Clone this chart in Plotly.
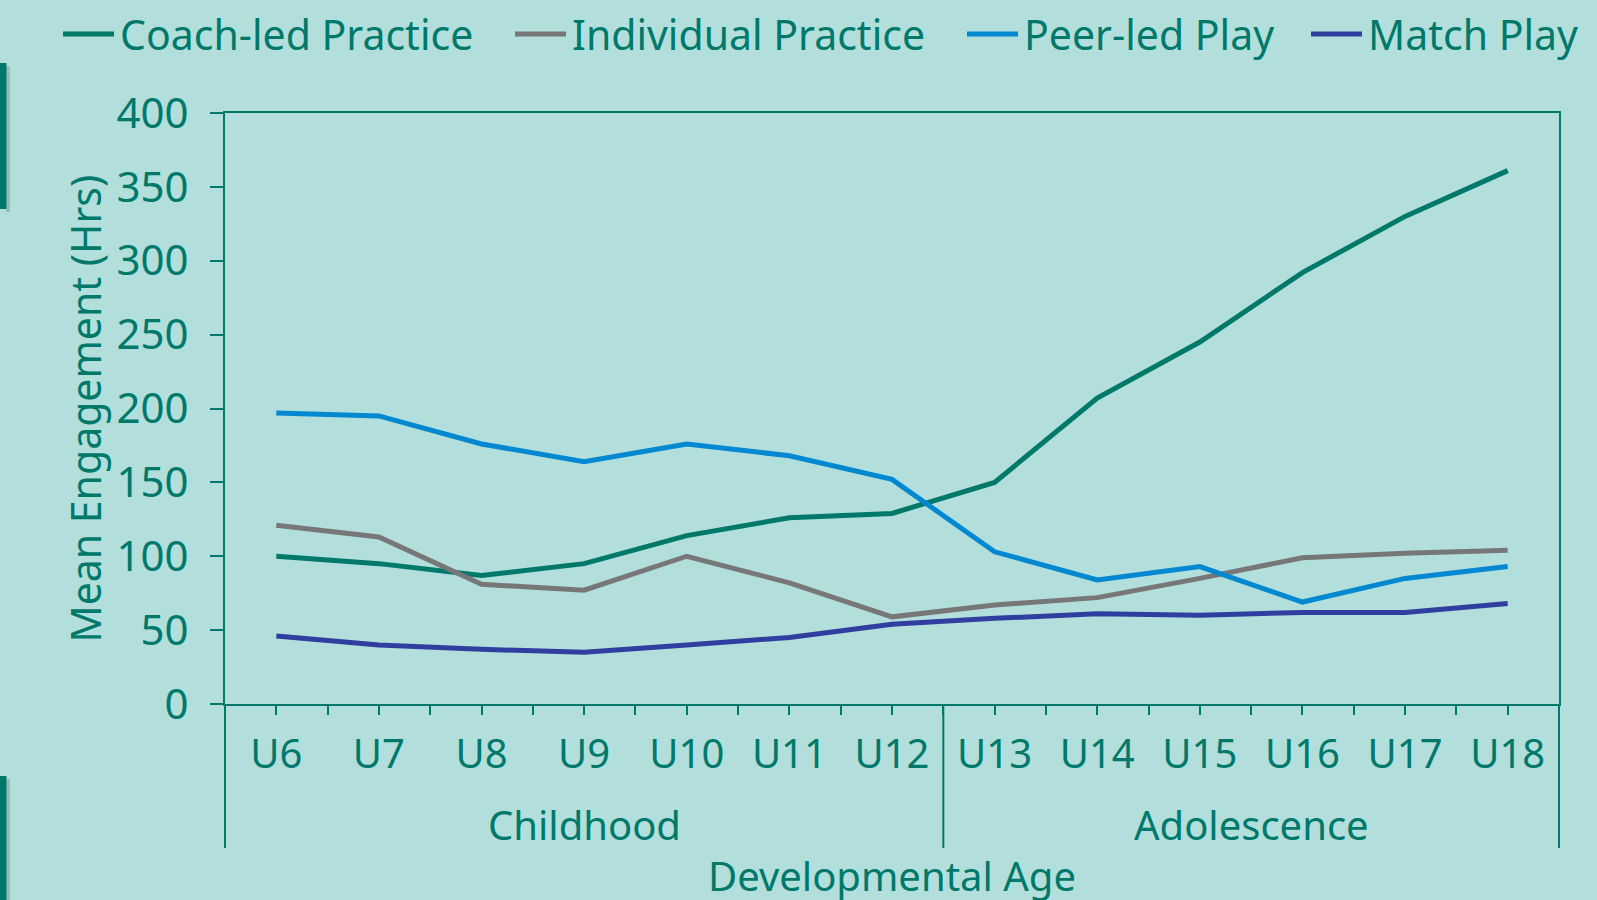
import plotly.graph_objects as go

# ---------------- data ----------------
ages = ["U6", "U7", "U8", "U9", "U10", "U11", "U12",
        "U13", "U14", "U15", "U16", "U17", "U18"]
stage_names = ["Childhood", "Adolescence"]
stage_sizes = [7, 6]

coach_led = [100, 95, 87, 95, 114, 126, 129, 150, 207, 245, 292, 330, 361]
individual = [121, 113, 81, 77, 100, 82, 59, 67, 72, 85, 99, 102, 104]
peer_led = [197, 195, 176, 164, 176, 168, 152, 103, 84, 93, 69, 85, 93]
match_play = [46, 40, 37, 35, 40, 45, 54, 58, 61, 60, 62, 62, 68]

series_names = ["Coach-led Practice", "Individual Practice", "Peer-led Play", "Match Play"]
series_values = [coach_led, individual, peer_led, match_play]
y_ticks = [0, 50, 100, 150, 200, 250, 300, 350, 400]

# ---------------- styling ----------------
BG = "#B2DFDB"
TEAL = "#00796B"
colors = ["#00796B", "#777777", "#0288D1", "#303F9F"]
FONT = "Noto Sans"
FS = 40

W, H = 1597, 900
L, R, T, B = 225, 38, 113, 196
PW, PH = W - L - R, H - T - B


def px_x(px):
    return (px - L) / PW


def px_y(py):
    return (H - B - py) / PH


idx = list(range(len(ages)))

fig = go.Figure()
for name, vals, col in zip(series_names, series_values, colors):
    fig.add_trace(go.Scatter(
        x=idx, y=vals, mode="lines", name=name,
        line=dict(color=col, width=5),
        showlegend=False,
    ))

shapes = []
annotations = []

# axis extensions and group divider
bottom_y = px_y(848)
shapes.append(dict(type="line", xref="paper", yref="paper", x0=0, x1=0, y0=0, y1=bottom_y,
                   line=dict(color=TEAL, width=2)))
shapes.append(dict(type="line", xref="paper", yref="paper", x0=1, x1=1, y0=0, y1=bottom_y,
                   line=dict(color=TEAL, width=2)))
boundary = stage_sizes[0] - 0.5
shapes.append(dict(type="line", xref="x", yref="paper", x0=boundary, x1=boundary, y0=0, y1=bottom_y,
                   line=dict(color=TEAL, width=2)))

# group labels
start = 0
for name, n in zip(stage_names, stage_sizes):
    center = start + (n - 1) / 2
    annotations.append(dict(text=name, xref="x", yref="paper", x=center, y=px_y(824),
                            xanchor="center", yanchor="middle", showarrow=False,
                            font=dict(family=FONT, size=FS, color=TEAL)))
    start += n

# axis titles
annotations.append(dict(text="Developmental Age", xref="paper", yref="paper", x=0.5, y=px_y(875),
                        xanchor="center", yanchor="middle", showarrow=False,
                        font=dict(family=FONT, size=FS, color=TEAL)))
annotations.append(dict(text="Mean Engagement (Hrs)", xref="paper", yref="paper", x=px_x(84), y=0.5,
                        xanchor="center", yanchor="middle", showarrow=False, textangle=-90,
                        font=dict(family=FONT, size=FS + 1, color=TEAL)))

# custom legend
legend_line_x = [61, 513, 965, 1309]
leg_y = px_y(34)
for name, col, lx in zip(series_names, colors, legend_line_x):
    shapes.append(dict(type="line", xref="paper", yref="paper",
                       x0=px_x(lx + 2), x1=px_x(lx + 53), y0=leg_y, y1=leg_y,
                       line=dict(color=col, width=5)))
    annotations.append(dict(text=name, xref="paper", yref="paper", x=px_x(lx + 57), y=px_y(34),
                            xanchor="left", yanchor="middle", showarrow=False,
                            font=dict(family=FONT, size=FS + 1, color=TEAL)))

# decorative left-edge bars
for y0, y1 in [(63, 209), (776, 905)]:
    shapes.append(dict(type="rect", xref="paper", yref="paper",
                       x0=px_x(6), x1=px_x(10), y0=px_y(y1 + 3), y1=px_y(y0 + 3),
                       fillcolor="rgba(60,90,85,0.25)", line=dict(width=0), layer="below"))
    shapes.append(dict(type="rect", xref="paper", yref="paper",
                       x0=px_x(-2), x1=px_x(6.5), y0=px_y(y1), y1=px_y(y0),
                       fillcolor=TEAL, line=dict(width=0)))

fig.update_layout(
    width=W, height=H,
    margin=dict(l=L, r=R, t=T, b=B, pad=0),
    paper_bgcolor=BG, plot_bgcolor=BG,
    font=dict(family=FONT, size=FS, color=TEAL),
    shapes=shapes, annotations=annotations,
    showlegend=False,
)
fig.update_xaxes(
    range=[-0.5, len(ages) - 0.5],
    tickmode="array", tickvals=idx, ticktext=ages,
    ticks="outside", ticklen=9, tickwidth=2, tickcolor=TEAL,
    minor=dict(tickmode="array", tickvals=[i + 0.5 for i in idx[:-1]],
               ticks="outside", ticklen=9, tickwidth=2, tickcolor=TEAL),
    showline=True, linecolor=TEAL, linewidth=2, mirror=True,
    showgrid=False, zeroline=False,
    tickfont=dict(family=FONT, size=FS, color=TEAL),
    ticklabelstandoff=5,
)
fig.update_yaxes(
    range=[0, 400], tickmode="array", tickvals=y_ticks,
    ticks="outside", ticklen=13, tickwidth=2, tickcolor=TEAL,
    showline=True, linecolor=TEAL, linewidth=2, mirror=True,
    showgrid=False, zeroline=False,
    tickfont=dict(family=FONT, size=FS + 2, color=TEAL),
    ticklabelstandoff=13,
)

fig.write_html(
    "out.html",
    config={"displayModeBar": False},
    post_script="document.body.style.margin='0';document.body.style.overflow='hidden';"
                "document.body.style.background='" + BG + "';",
)
